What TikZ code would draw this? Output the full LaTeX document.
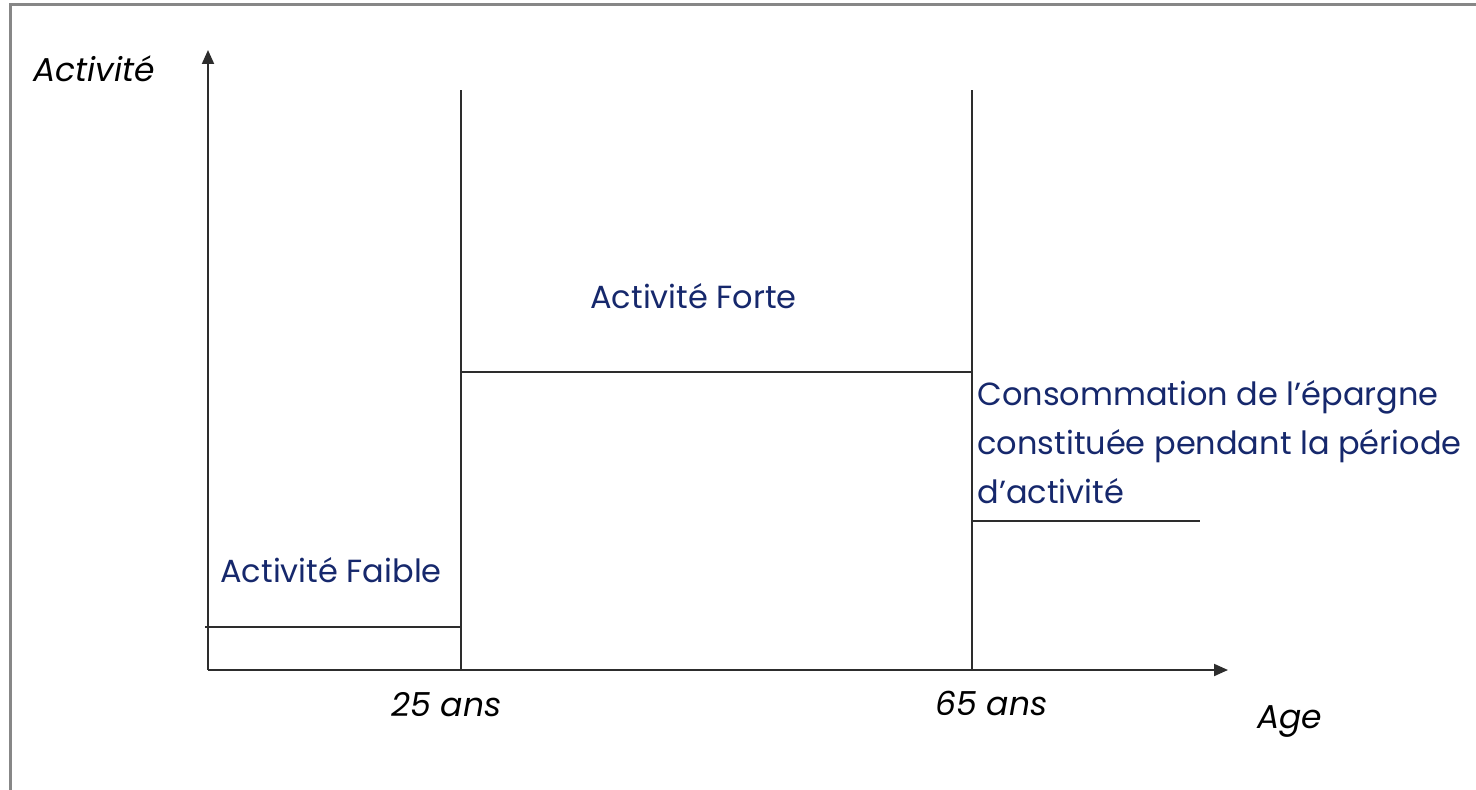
\documentclass[tikz,border=0pt]{standalone}
\usepackage{fontspec}
\setmainfont{Poppins}
\usetikzlibrary{arrows.meta}
\definecolor{navy}{RGB}{22,40,108}
\definecolor{axisgray}{RGB}{45,45,45}
\definecolor{framegray}{RGB}{135,135,135}
\begin{document}
\begin{tikzpicture}[x=0.5pt,y=-0.5pt,
  axisline/.style={draw=axisgray,line width=1pt},
  arrowline/.style={axisline,-{Triangle[length=7pt,width=6pt]}},
  lbl/.style={text=navy,font=\fontsize{16}{24.5}\selectfont,anchor=base west,inner sep=0pt,align=left},
  axlbl/.style={text=black,font=\fontsize{16.5}{20}\selectfont\itshape,anchor=base west,inner sep=0pt}]
\useasboundingbox (0,0) rectangle (1476,790);
% frame
\coordinate (fl) at (10.5,790);
\coordinate (ftl) at (10.5,4.5);
\coordinate (ftr) at (1476,4.5);
\draw[framegray,line width=1.3pt] (fl) -- (ftl) -- (ftr);
% axes
\coordinate (O) at (208,670);
\coordinate (ytip) at (208,50);
\coordinate (xtip) at (1228,670);
\draw[arrowline] (O) -- (ytip);
\draw[arrowline] (O) -- (xtip);
% verticals
\coordinate (a25b) at (461,670);
\coordinate (a25t) at (461,90);
\coordinate (a65b) at (972,670);
\coordinate (a65t) at (972,90);
\draw[axisline] (a25b) -- (a25t);
\draw[axisline] (a65b) -- (a65t);
% levels
\coordinate (fa1) at (205,627);
\coordinate (fa2) at (461,627);
\coordinate (fo1) at (461,372);
\coordinate (fo2) at (972,372);
\coordinate (co1) at (972,521);
\coordinate (co2) at (1200,521);
\draw[axisline] (fa1) -- (fa2);
\draw[axisline] (fo1) -- (fo2);
\draw[axisline] (co1) -- (co2);
% labels
\node[axlbl] (ylab) at (33,82) {Activité};
\node[axlbl] (t25) at (391,716) {25 ans};
\node[axlbl] (t65) at (935,715) {65 ans};
\node[axlbl] (xlab) at (1257,728) {Age};
\node[lbl] (forte) at (590,309) {Activité Forte};
\node[lbl] (faible) at (220,582) {Activité Faible};
\node[lbl] (conso) at (977,503) {Consommation de l’épargne\\constituée pendant la période\\d’activité};
\end{tikzpicture}
\end{document}
